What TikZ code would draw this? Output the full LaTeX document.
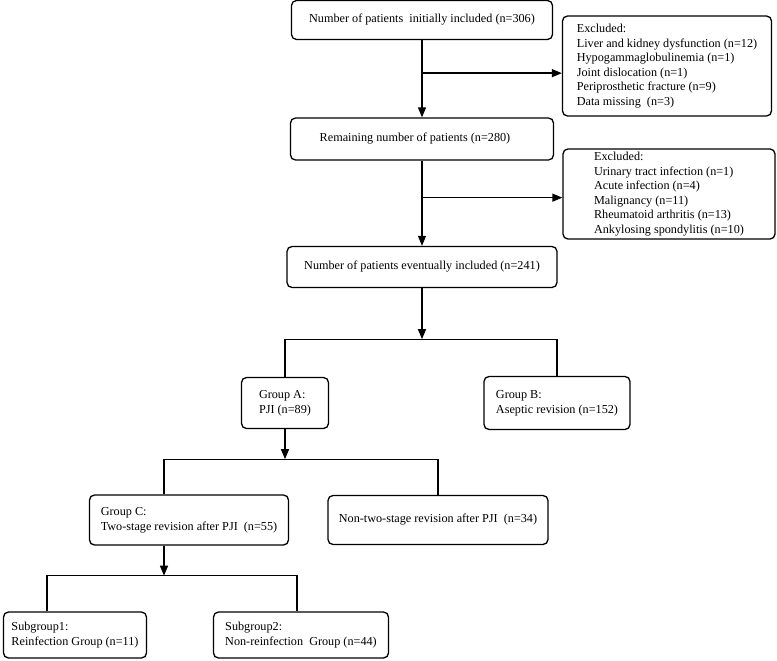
\documentclass[tikz,border=0pt]{standalone}
\usepackage{fontspec}
\setmainfont{Liberation Serif}
\usetikzlibrary{positioning, arrows.meta}

\begin{document}
\begin{tikzpicture}[x=1pt,y=1pt,on grid,line width=1.3pt,
    >={Triangle[length=10pt,width=8pt]},
    box/.style={draw,rounded corners=5pt,align=center,inner sep=3pt,
      font=\fontsize{12.2}{14.6}\selectfont},
    listbox/.style={box,align=left}]
            \useasboundingbox (0,0) rectangle (777,-661);
            \node[box, minimum width=261pt, minimum height=39pt] (init) at (422,-20) {Number of patients\ \ initially included (n=306)};
            \node[box, minimum width=263pt, minimum height=42pt] (rem) [below=119pt of init] {Remaining number of patients (n=280)\hspace*{14pt}};
            \node[box, minimum width=270pt, minimum height=41pt] (final) [below=128pt of rem] {Number of patients eventually included (n=241)};
            \node[listbox, minimum width=209pt, minimum height=100pt] (excl1) [below right=46pt and 245pt of init] {Excluded:\\Liver and kidney dysfunction (n=12)\\Hypogammaglobulinemia (n=1)\\Joint dislocation (n=1)\\Periprosthetic fracture (n=9)\\Data missing\ \ (n=3)};
            \node[listbox, minimum width=212pt, minimum height=90pt] (excl2) [below right=55pt and 247pt of rem] {Excluded:\\Urinary tract infection (n=1)\\Acute infection (n=4)\\Malignancy (n=11)\\Rheumatoid arthritis (n=13)\\Ankylosing spondylitis (n=10)};
            \node[listbox, minimum width=87pt, minimum height=51pt] (grpA) [below left=136pt and 137pt of final] {Group A:\\PJI (n=89)};
            \node[listbox, minimum width=146pt, minimum height=53pt] (grpB) [below right=136pt and 135pt of final] {Group B:\\Aseptic revision (n=152)};
            \node[listbox, minimum width=199pt, minimum height=50pt] (grpC) [below left=117pt and 96pt of grpA] {Group C:\\Two-stage revision after PJI\ \ (n=55)};
            \node[box, minimum width=220pt, minimum height=49pt] (nontwo) [below right=117pt and 153pt of grpA] {Non-two-stage revision after PJI\ \ (n=34)};
            \node[listbox, minimum width=143pt, minimum height=46pt] (sub1) [below left=115pt and 114pt of grpC] {Subgroup1:\\Reinfection Group (n=11)};
            \node[listbox, minimum width=175pt, minimum height=46pt] (sub2) [below right=115pt and 112pt of grpC] {Subgroup2:\\Non-reinfection\ \ Group (n=44)};
            % exclusion branches
            \coordinate[below=33pt of init.south] (cut1);
            \coordinate[below=37pt of rem.south] (cut2);
            \draw[->] (init) -- (rem);
            \draw[->] (cut1) -- (cut1 -| excl1.west);
            \draw[->] (rem) -- (final);
            \draw[->] (cut2) -- (cut2 -| excl2.west);
            % group splits
            \coordinate[below=51pt of final.south] (fork1);
            \draw[->] (final) -- (fork1);
            \draw (grpA.north) |- (fork1) -| (grpB.north);
            \coordinate[below=30pt of grpA.south] (fork2);
            \draw[->] (grpA) -- (fork2);
            \draw ([xshift=-25pt]grpC.north) |- (fork2) -| (nontwo.north);
            \coordinate (c3) at ([xshift=-25pt]grpC.south);
            \coordinate[below=30pt of c3] (fork3);
            \draw[->] (c3) -- (fork3);
            \draw ([xshift=-28pt]sub1.north) |- (fork3) -| ([xshift=-4pt]sub2.north);
\end{tikzpicture}
\end{document}
